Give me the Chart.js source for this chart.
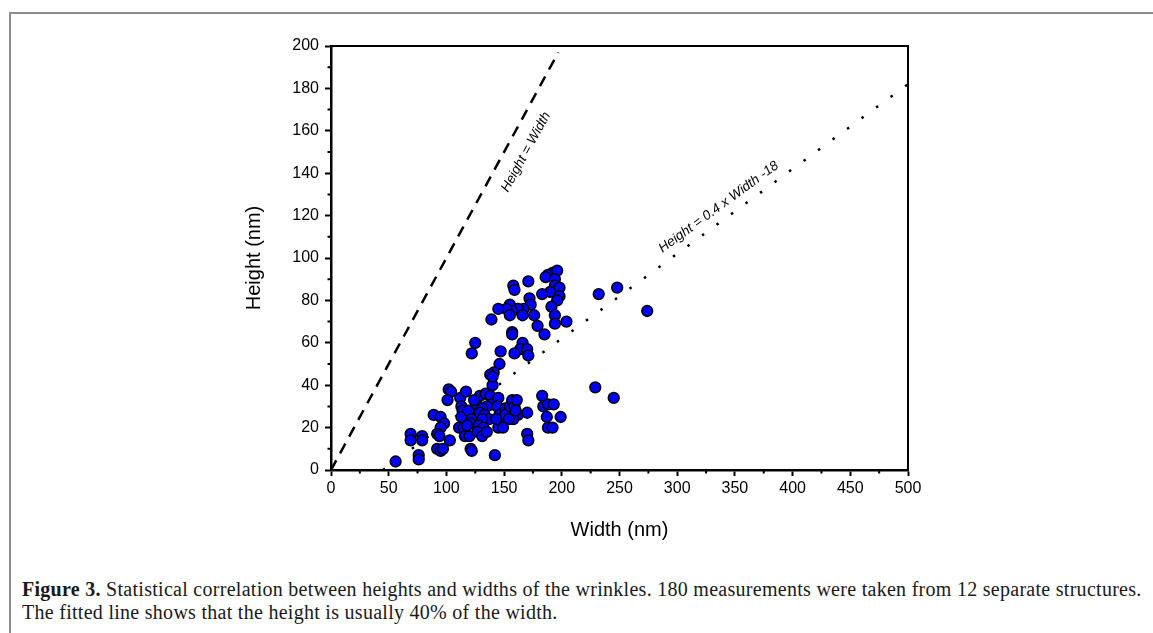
<!DOCTYPE html>
<html>
<head>
<meta charset="utf-8">
<script src="https://cdn.jsdelivr.net/npm/chart.js@4.4.1/dist/chart.umd.min.js"></script>
<style>
  html, body { margin: 0; padding: 0; background: #fff; width: 1153px; height: 633px; overflow: hidden; }
  #frame { position: absolute; left: 9px; top: 12px; width: 1300px; height: 800px;
           border-left: 2px solid #8c8c8c; border-top: 2px solid #8c8c8c; }
  #wrap { position: absolute; left: 0; top: 0; width: 1153px; height: 546px; }
  #caption { position: absolute; left: 22px; top: 578px; font-family: "Liberation Serif", serif;
             font-size: 20px; letter-spacing: 0.28px; line-height: 23px; color: #1a1a1a; white-space: nowrap; }
</style>
</head>
<body>
<div id="frame"></div>
<div id="wrap"><canvas id="chart"></canvas></div>
<div id="caption"><b>Figure 3.</b> Statistical correlation between heights and widths of the wrinkles. 180 measurements were taken from 12 separate structures.<br>The fitted line shows that the height is usually 40% of the width.</div>
<script>
// measured wrinkles (nm)
const widths = [
  192, 188, 196, 186, 194, 171, 158, 159, 194, 198, 190, 183, 198, 196, 172, 173, 167, 162, 155, 157,
  152, 145, 155, 166, 176, 191, 194, 194, 204, 139, 179, 185, 157, 157, 232, 248, 274, 125, 122, 166,
  164, 170, 171, 159, 147, 146, 141, 138, 229, 245, 140, 56, 69, 69, 79, 79, 76, 76, 89, 95,
  98, 95, 92, 94, 103, 92, 95, 97, 121, 122, 142, 102, 104, 101, 112, 117, 113, 114, 113, 111,
  115, 116, 120, 119, 122, 121, 126, 129, 134, 138, 139, 135, 131, 129, 133, 137, 131, 128, 132, 127,
  131, 135, 145, 144, 146, 151, 151, 155, 157, 159, 161, 162, 158, 154, 146, 145, 149, 170, 170, 171,
  183, 184, 188, 193, 187, 199, 188, 192, 140, 124, 143, 160, 118
];
const heights = [
  93, 92, 94, 91, 90, 89, 87, 85, 87, 86, 84, 83, 82, 80, 81, 78, 76, 76, 78, 75,
  76, 76, 73, 73, 73, 77, 73, 69, 70, 71, 68, 64, 65, 64, 83, 86, 75, 60, 55, 60,
  57, 57, 54, 55, 56, 50, 46, 45, 39, 34, 40, 4, 17, 14, 16, 14, 7, 5, 26, 25,
  22, 20, 17, 16, 14, 10, 9, 10, 10, 9, 7, 38, 37, 33, 34, 37, 30, 28, 25, 20,
  20, 16, 16, 28, 24, 22, 31, 35, 36, 35, 31, 30, 29, 27, 26, 24, 24, 21, 20, 18,
  16, 18, 34, 30, 26, 29, 26, 30, 33, 30, 33, 26, 24, 24, 21, 20, 20, 27, 17, 14,
  35, 30, 31, 31, 25, 25, 20, 20, 44, 33, 24, 28, 21
];

// reference line Height = Width
const equalW = [0, 197];
const equalH = [0, 197];
// fitted line Height = 0.4 x Width - 18
const fitW = [45, 500];
const fitH = [0, 182];

const xTicks = [0, 50, 100, 150, 200, 250, 300, 350, 400, 450, 500];
const yTicks = [0, 20, 40, 60, 80, 100, 120, 140, 160, 180, 200];

const pts = (xs, ys) => xs.map((x, i) => ({ x: x, y: ys[i] }));

const axisFont = { family: 'Liberation Sans, Arial, sans-serif', size: 16 };
const titleFont = { family: 'Liberation Sans, Arial, sans-serif', size: 20 };

// frame, minor ticks and the two line labels
const extras = {
  id: 'extras',
  afterDraw(chart) {
    const { ctx, chartArea: a, scales: { x, y } } = chart;
    ctx.save();
    ctx.strokeStyle = '#000';
    ctx.lineWidth = 2;
    ctx.beginPath();
    ctx.moveTo(a.left, a.top);
    ctx.lineTo(a.right, a.top);
    ctx.lineTo(a.right, a.bottom);
    ctx.stroke();

    // minor ticks
    ctx.lineWidth = 2;
    ctx.beginPath();
    for (let i = 0; i < xTicks.length - 1; i++) {
      const px = x.getPixelForValue((xTicks[i] + xTicks[i + 1]) / 2);
      ctx.moveTo(px, a.bottom);
      ctx.lineTo(px, a.bottom + 3.5);
    }
    for (let i = 0; i < yTicks.length - 1; i++) {
      const py = y.getPixelForValue((yTicks[i] + yTicks[i + 1]) / 2);
      ctx.moveTo(a.left, py);
      ctx.lineTo(a.left - 3.5, py);
    }
    ctx.stroke();

    // labels along the lines
    const labels = [
      { text: 'Height = Width', w: 169, h: 150, xs: equalW, ys: equalH },
      { text: 'Height = 0.4 x Width -18', w: 336, h: 124, xs: fitW, ys: fitH }
    ];
    ctx.fillStyle = '#000';
    ctx.font = 'italic 13.5px "Liberation Sans", Arial, sans-serif';
    ctx.textAlign = 'center';
    ctx.textBaseline = 'middle';
    labels.forEach(l => {
      const dx = x.getPixelForValue(l.xs[1]) - x.getPixelForValue(l.xs[0]);
      const dy = y.getPixelForValue(l.ys[1]) - y.getPixelForValue(l.ys[0]);
      ctx.save();
      ctx.translate(x.getPixelForValue(l.w), y.getPixelForValue(l.h));
      ctx.rotate(Math.atan2(dy, dx));
      ctx.fillText(l.text, 0, 0);
      ctx.restore();
    });
    ctx.restore();
  }
};

new Chart(document.getElementById('chart'), {
  type: 'scatter',
  data: {
    datasets: [
      {
        label: 'Wrinkles',
        data: pts(widths, heights),
        backgroundColor: '#0000ff',
        borderColor: '#000',
        borderWidth: 1.5,
        pointRadius: 5.4
      },
      {
        label: 'Height = Width',
        type: 'line',
        data: pts(equalW, equalH),
        borderColor: '#000',
        borderWidth: 2.5,
        borderDash: [11, 8],
        pointRadius: 0,
        fill: false
      },
      {
        label: 'Fit',
        type: 'line',
        data: pts(fitW, fitH),
        borderColor: '#000',
        borderWidth: 2.5,
        borderDash: [2.5, 15.5],
        pointRadius: 0,
        fill: false
      }
    ]
  },
  options: {
    responsive: true,
    maintainAspectRatio: false,
    animation: false,
    events: [],
    layout: { padding: { left: 238, right: 245, top: 46, bottom: 0 } },
    plugins: { legend: { display: false }, tooltip: { enabled: false } },
    scales: {
      x: {
        type: 'linear', min: 0, max: 500,
        afterFit: s => { s.height = 76; },
        afterBuildTicks: s => { s.ticks = xTicks.map(v => ({ value: v })); },
        ticks: { font: axisFont, color: '#000', padding: 3 },
        grid: { drawOnChartArea: false, drawTicks: true, tickLength: 6, tickWidth: 2, tickColor: '#000' },
        border: { display: true, color: '#000', width: 2.5 },
        title: { display: true, text: 'Width (nm)', font: titleFont, color: '#000' }
      },
      y: {
        type: 'linear', min: 0, max: 200,
        afterFit: s => { s.width = 93; },
        afterBuildTicks: s => { s.ticks = yTicks.map(v => ({ value: v })); },
        ticks: { font: axisFont, color: '#000', padding: 6 },
        grid: { drawOnChartArea: false, drawTicks: true, tickLength: 6, tickWidth: 2, tickColor: '#000' },
        border: { display: true, color: '#000', width: 2.5 },
        title: { display: true, text: 'Height (nm)', font: titleFont, color: '#000' }
      }
    }
  },
  plugins: [extras]
});
</script>
</body>
</html>
